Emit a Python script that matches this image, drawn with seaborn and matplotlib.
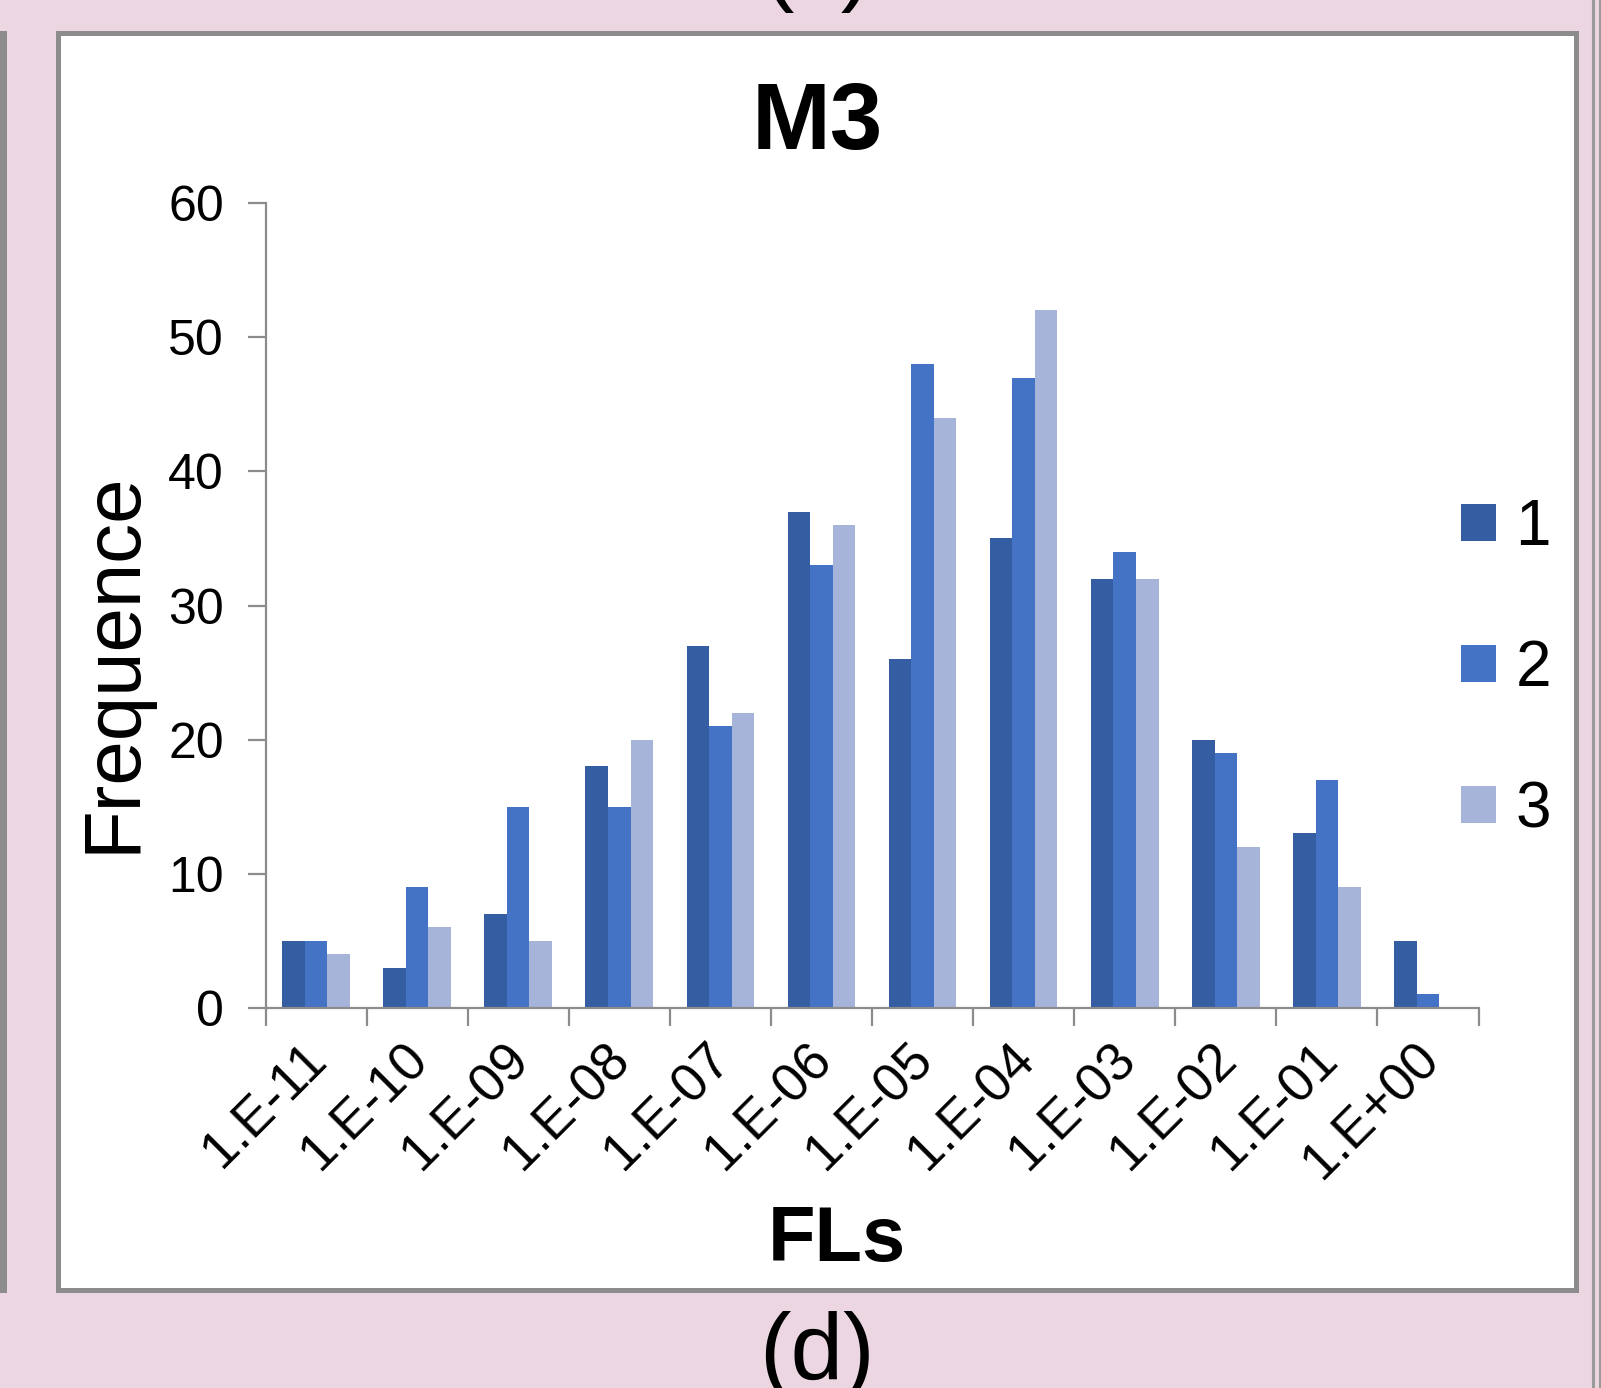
import matplotlib
matplotlib.use("Agg")
import matplotlib.pyplot as plt
from matplotlib.patches import Rectangle, Patch
from matplotlib.lines import Line2D
from matplotlib.transforms import ScaledTranslation
import seaborn as sns
import pandas as pd
import numpy as np

categories = ["1.E-11", "1.E-10", "1.E-09", "1.E-08", "1.E-07", "1.E-06",
              "1.E-05", "1.E-04", "1.E-03", "1.E-02", "1.E-01", "1.E+00"]
series_names = ["1", "2", "3"]
s1 = [5, 3, 7, 18, 27, 37, 26, 35, 32, 20, 13, 5]
s2 = [5, 9, 15, 15, 21, 33, 48, 47, 34, 19, 17, 1]
s3 = [4, 6, 5, 20, 22, 36, 44, 52, 32, 12, 9, 0]
y_ticks = [0, 10, 20, 30, 40, 50, 60]
colors = ["#355DA1", "#4472C4", "#A6B4DA"]

rows = []
for name, vals in zip(series_names, [s1, s2, s3]):
    for c, v in zip(categories, vals):
        rows.append({"FLs": c, "Frequence": v, "serie": name})
df = pd.DataFrame(rows)

sns.set_theme(style="white")
plt.rcParams['font.family'] = ['Liberation Sans', 'DejaVu Sans']
plt.rcParams['text.color'] = 'black'
plt.rcParams['axes.labelcolor'] = 'black'
plt.rcParams['xtick.color'] = 'black'
plt.rcParams['ytick.color'] = 'black'

W, H = 1601, 1388
fig = plt.figure(figsize=(W / 100, H / 100), dpi=100)
fig.patch.set_facecolor("#EBD6E1")

def fx(x): return x / W
def fy(y): return 1 - y / H

fig.add_artist(Rectangle((fx(58), fy(1290)), fx(1576) - fx(58), fy(33) - fy(1290),
                         transform=fig.transFigure, facecolor="white",
                         edgecolor="#8C8C8C", linewidth=3.6, zorder=0))
fig.add_artist(Rectangle((0, fy(1290)), fx(4), fy(33) - fy(1290),
                         transform=fig.transFigure, facecolor="white",
                         edgecolor="#8C8C8C", linewidth=3.6, zorder=0))
fig.add_artist(Line2D([fx(1593), fx(1593)], [0, 1], transform=fig.transFigure,
                      color="#9A9A9A", linewidth=2.2))
fig.add_artist(Line2D([fx(1600), fx(1600)], [0, 1], transform=fig.transFigure,
                      color="#9A9A9A", linewidth=2.2))

ax_l, ax_r = 265.5, 1478.5
ax_t, ax_b = 203.2, 1007.8
ax = fig.add_axes([fx(ax_l), fy(ax_b), fx(ax_r) - fx(ax_l), fy(ax_t) - fy(ax_b)])
ax.set_facecolor("white")
ax.patch.set_alpha(0)

sns.barplot(data=df, x="FLs", y="Frequence", hue="serie", palette=colors,
            width=0.67, gap=0, dodge=True, errorbar=None, linewidth=0,
            legend=False, ax=ax, saturation=1)

ax.set_xlim(-0.5, len(categories) - 0.5)
ax.set_ylim(0, 60)
ax.set_yticks(y_ticks)
for s in ["top", "right"]:
    ax.spines[s].set_visible(False)
for s in ["left", "bottom"]:
    ax.spines[s].set_color("#8C8C8C")
    ax.spines[s].set_linewidth(1.6)

ax.set_xticks(range(len(categories)))
ax.set_xticks(np.arange(-0.5, len(categories)), minor=True)
ax.tick_params(axis="x", which="major", length=0, pad=19, labelcolor="black")
ax.tick_params(axis="x", which="minor", length=13, width=1.6, color="#8C8C8C",
               direction="out", bottom=True)
ax.tick_params(axis="y", which="major", length=13, width=1.6, color="#8C8C8C",
               direction="out", left=True, labelsize=36, pad=17, labelcolor="black")
ax.set_xticklabels(categories, rotation=45, ha="right", va="top",
                   rotation_mode="anchor", fontsize=38)
shift = ScaledTranslation(-15 / 100, 0, fig.dpi_scale_trans)
for lab in ax.get_xticklabels():
    lab.set_transform(lab.get_transform() + shift)

ax.set_title("M3", fontsize=68, fontweight="bold", x=(817 - ax_l) / (ax_r - ax_l),
             y=(ax_b - 125) / (ax_b - ax_t), va="center", pad=0, color="black")
ax.set_xlabel("FLs", fontsize=56, fontweight="bold", va="center", ha="center")
ax.xaxis.set_label_coords((837 - ax_l) / (ax_r - ax_l), (ax_b - 1241) / (ax_b - ax_t))
ax.set_ylabel("Frequence", fontsize=57.5, va="center", ha="center")
ax.yaxis.set_label_coords((114 - ax_l) / (ax_r - ax_l), (ax_b - 662) / (ax_b - ax_t))

handles = [Patch(facecolor=c, edgecolor="none") for c in colors]
fig.legend(handles, series_names, loc="center left",
           bbox_to_anchor=(fx(1461), fy(669)), frameon=False, fontsize=46,
           handlelength=0.55, handleheight=0.52, handletextpad=0.3,
           labelspacing=1.27, borderpad=0, borderaxespad=0)

fig.text(fx(817), fy(1380), "(d)", fontsize=68, ha="center", va="baseline")
fig.text(fx(817), fy(-7), "(c)", fontsize=68, ha="center", va="baseline")

fig.savefig("out.png", dpi=100, facecolor=fig.get_facecolor())
